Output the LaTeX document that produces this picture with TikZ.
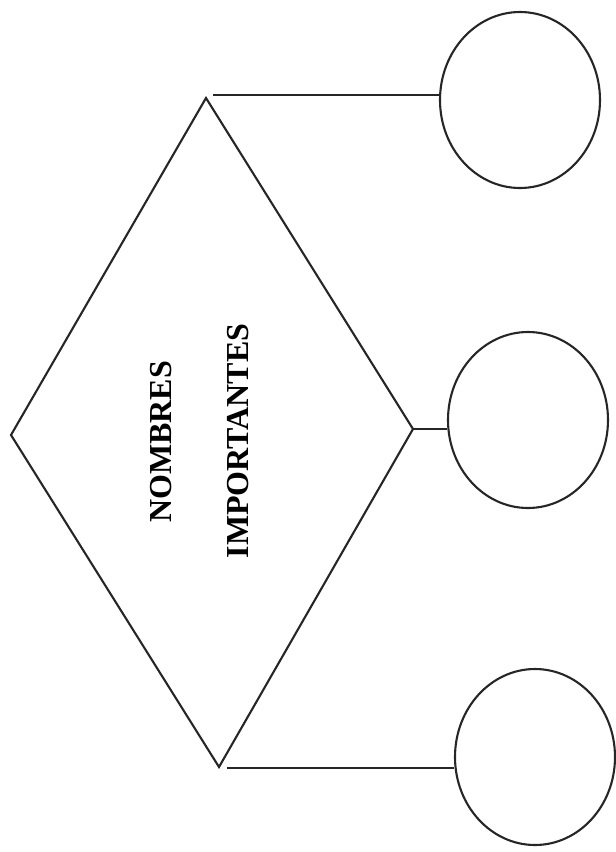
\documentclass[tikz,border=0pt]{standalone}
\usepackage{fontspec}
\setmainfont{Liberation Serif}
\usetikzlibrary{shapes.geometric}
\begin{document}
\begin{tikzpicture}[x=1pt,y=-1pt,
  ln/.style={line width=2.1pt,draw=black!85},
  bubble/.style={ellipse,ln,minimum width=160pt,minimum height=176pt,inner sep=0pt},
  lbl/.style={rotate=90,font=\fontsize{32}{38}\selectfont\bfseries,inner sep=0pt}]
\useasboundingbox (0,0) rectangle (616,852);
\coordinate (L) at (11,435);
\coordinate (T) at (206,98);
\coordinate (R) at (413,429);
\coordinate (B) at (219,767);
\draw[ln,line join=miter] (L) -- (T) -- (R) -- (B) -- cycle;
\node[lbl] (n1) at (161,442) {NOMBRES};
\node[lbl] (n2) at (238,441) {IMPORTANTES};
\node[bubble] (c1) at (520,100) {};
\node[bubble] (c2) at (528,420) {};
\node[bubble] (c3) at (535,757) {};
\coordinate (t1) at (213,95);
\coordinate (b1) at (227,768);
\draw[ln] (t1) -- (t1 -| c1.west);
\draw[ln] (R) -- (R -| c2.west);
\draw[ln] (b1) -- (b1 -| c3.west);
\end{tikzpicture}
\end{document}
